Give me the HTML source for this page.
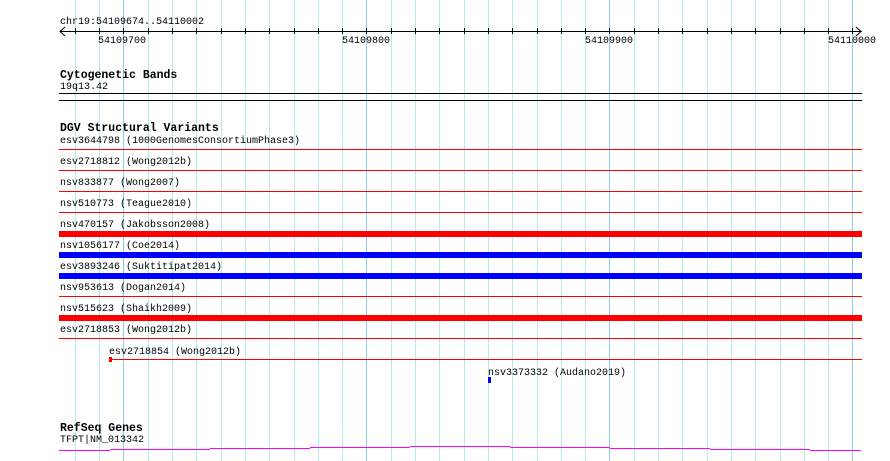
<!DOCTYPE html>
<html><head><meta charset="utf-8"><style>
html,body{margin:0;padding:0;background:#fff;width:890px;height:461px;overflow:hidden}
svg{display:block}
text{font-family:"Liberation Mono",monospace;font-size:10px;fill:#000}
.b{font-weight:bold;font-size:11.5px}
</style></head><body>
<svg width="890" height="461" xmlns="http://www.w3.org/2000/svg" shape-rendering="crispEdges">
<path stroke="#b3ebef" stroke-width="1" fill="none" d="M75.5 0V461M99.5 0V461M148.5 0V461M172.5 0V461M196.5 0V461M221.5 0V461M245.5 0V461M269.5 0V461M294.5 0V461M318.5 0V461M342.5 0V461M391.5 0V461M415.5 0V461M439.5 0V461M464.5 0V461M488.5 0V461M512.5 0V461M537.5 0V461M561.5 0V461M585.5 0V461M634.5 0V461M658.5 0V461M682.5 0V461M707.5 0V461M731.5 0V461M755.5 0V461M780.5 0V461M804.5 0V461M828.5 0V461"/>
<path stroke="#8fcbe6" stroke-width="1" fill="none" d="M123.5 0V461M366.5 0V461M609.5 0V461M852.5 0V461"/>
<path stroke="#000" stroke-width="1" fill="none" d="M75.5 28V34M99.5 28V34M123.5 28V34M148.5 28V34M172.5 28V34M196.5 28V34M221.5 28V34M245.5 28V34M269.5 28V34M294.5 28V34M318.5 28V34M342.5 28V34M366.5 28V34M391.5 28V34M415.5 28V34M439.5 28V34M464.5 28V34M488.5 28V34M512.5 28V34M537.5 28V34M561.5 28V34M585.5 28V34M609.5 28V34M634.5 28V34M658.5 28V34M682.5 28V34M707.5 28V34M731.5 28V34M755.5 28V34M780.5 28V34M804.5 28V34M828.5 28V34M852.5 28V34"/>
<text x="60" y="24">chr19:54109674..54110002</text>
<line x1="60" y1="31.5" x2="862" y2="31.5" stroke="#000"/>
<polyline points="65,27 60,31.5 65,36" fill="none" stroke="#000" shape-rendering="auto"/>
<polyline points="856,27 861,31.5 856,36" fill="none" stroke="#000" shape-rendering="auto"/>
<text x="98" y="43">54109700</text>
<text x="342" y="43">54109800</text>
<text x="585" y="43">54109900</text>
<text x="828" y="43">54110000</text>
<text class="b" x="60" y="78">Cytogenetic Bands</text>
<text x="60" y="89">19q13.42</text>
<rect x="59" y="93" width="803" height="1" fill="#000"/>
<rect x="59" y="100" width="803" height="1" fill="#000"/>
<text class="b" x="60" y="131">DGV Structural Variants</text>
<text x="60" y="143">esv3644798 (1000GenomesConsortiumPhase3)</text>
<rect x="59" y="149" width="803" height="1" fill="#f00"/>
<text x="60" y="164">esv2718812 (Wong2012b)</text>
<rect x="59" y="170" width="803" height="1" fill="#f00"/>
<text x="60" y="185">nsv833877 (Wong2007)</text>
<rect x="59" y="191" width="803" height="1" fill="#f00"/>
<text x="60" y="206">nsv510773 (Teague2010)</text>
<rect x="59" y="212" width="803" height="1" fill="#f00"/>
<text x="60" y="227">nsv470157 (Jakobsson2008)</text>
<rect x="59" y="231" width="803" height="6" fill="#f00"/>
<text x="60" y="248">nsv1056177 (Coe2014)</text>
<rect x="59" y="252" width="803" height="6" fill="#00f"/>
<text x="60" y="269">esv3893246 (Suktitipat2014)</text>
<rect x="59" y="273" width="803" height="6" fill="#00f"/>
<text x="60" y="290">nsv953613 (Dogan2014)</text>
<rect x="59" y="296" width="803" height="1" fill="#f00"/>
<text x="60" y="311">nsv515623 (Shaikh2009)</text>
<rect x="59" y="315" width="803" height="6" fill="#f00"/>
<text x="60" y="332">esv2718853 (Wong2012b)</text>
<rect x="59" y="338" width="803" height="1" fill="#f00"/>
<text x="109" y="354">esv2718854 (Wong2012b)</text>
<rect x="109" y="359" width="753" height="1" fill="#f00"/>
<rect x="109" y="357" width="3" height="5" fill="#f00"/>
<text x="488" y="375">nsv3373332 (Audano2019)</text>
<rect x="488" y="377" width="3" height="6" fill="#00f"/>
<text class="b" x="60" y="431">RefSeq Genes</text>
<text x="60" y="442">TFPT|NM_013342</text>
<g fill="#f0f">
<rect x="59" y="450" width="51" height="1"/>
<rect x="110" y="449" width="100" height="1"/>
<rect x="210" y="448" width="100" height="1"/>
<rect x="310" y="447" width="100" height="1"/>
<rect x="410" y="446" width="100" height="1"/>
<rect x="510" y="447" width="100" height="1"/>
<rect x="610" y="448" width="100" height="1"/>
<rect x="710" y="449" width="100" height="1"/>
<rect x="810" y="450" width="51" height="1"/>
</g>
</svg>
</body></html>
